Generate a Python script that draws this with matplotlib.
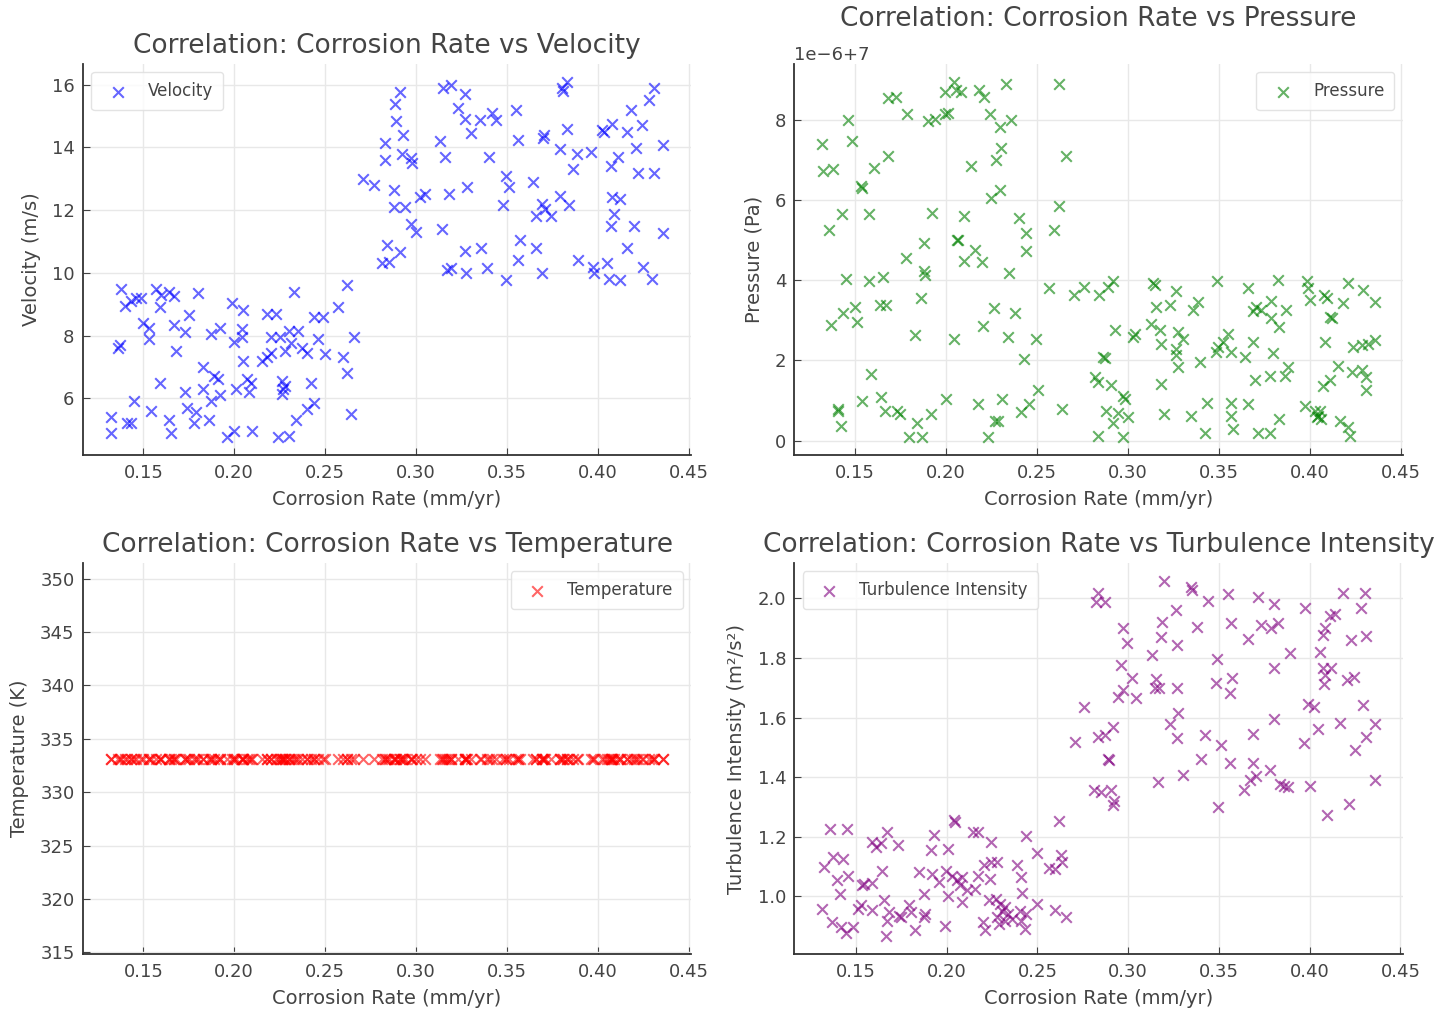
import matplotlib
matplotlib.use("Agg")
import matplotlib.pyplot as plt

# ---- data (corrosion rate in mm/yr) ----
rate_vel = [
    0.283, 0.283, 0.271, 0.277, 0.284, 0.281,
    0.138, 0.140, 0.143, 0.146, 0.149, 0.157, 0.160, 0.164, 0.167, 0.159, 0.180,
    0.150, 0.153, 0.153, 0.167, 0.173, 0.175, 0.137, 0.136, 0.168, 0.187, 0.192,
    0.199, 0.205, 0.200, 0.204, 0.204, 0.205, 0.218, 0.223, 0.233, 0.220, 0.225,
    0.230, 0.235, 0.231, 0.228, 0.237, 0.240, 0.215, 0.218, 0.220, 0.244, 0.249,
    0.257, 0.262, 0.246, 0.250, 0.260, 0.262, 0.266, 0.183, 0.189, 0.191, 0.183,
    0.187, 0.192, 0.173, 0.174, 0.179, 0.178, 0.186, 0.159, 0.145, 0.154, 0.132,
    0.132, 0.141, 0.143, 0.164, 0.165, 0.196, 0.200, 0.210, 0.224, 0.230, 0.201,
    0.207, 0.209, 0.208, 0.226, 0.228, 0.226, 0.227, 0.242, 0.234, 0.240, 0.244,
    0.264,
    0.291, 0.2885, 0.289, 0.293, 0.292, 0.297, 0.298, 0.288, 0.288, 0.294, 0.297,
    0.300, 0.291, 0.285, 0.302, 0.305, 0.313, 0.316, 0.314, 0.318, 0.328, 0.315,
    0.319, 0.327, 0.323, 0.327, 0.330, 0.335, 0.342, 0.344, 0.340, 0.355, 0.356,
    0.317, 0.319, 0.3275, 0.327, 0.3355, 0.339, 0.3495, 0.348, 0.3495, 0.351, 0.364,
    0.357, 0.356, 0.366, 0.369, 0.366, 0.369, 0.371, 0.374, 0.3705, 0.3696, 0.379,
    0.384, 0.380, 0.383, 0.381, 0.383, 0.379, 0.3885, 0.396, 0.386, 0.389, 0.397,
    0.398, 0.405, 0.406, 0.412, 0.402, 0.4035, 0.4075, 0.416, 0.418, 0.424, 0.428,
    0.431, 0.407, 0.411, 0.421, 0.422, 0.4306, 0.4355, 0.4075, 0.412, 0.409, 0.407,
    0.420, 0.436, 0.416, 0.4245, 0.4295,
]
velocity = [
    14.15, 13.6, 13.0, 12.8, 10.9, 10.3,
    9.5, 8.95, 9.1, 9.2, 9.2, 9.5, 9.3, 9.4, 9.25, 8.9, 9.35,
    8.4, 8.25, 7.9, 8.35, 8.1, 8.65, 7.7, 7.6, 7.5, 8.05, 8.25,
    9.05, 8.8, 7.8, 7.95, 8.2, 7.2, 8.7, 8.7, 9.4, 7.95, 7.95,
    8.15, 8.15, 7.75, 7.5, 7.6, 7.45, 7.2, 7.3, 7.45, 8.6, 8.6,
    8.9, 9.6, 7.9, 7.4, 7.3, 6.8, 7.95, 7.0, 6.7, 6.6, 6.3,
    5.9, 6.1, 6.2, 5.7, 5.55, 5.2, 5.3, 6.5, 5.9, 5.6, 5.4,
    4.9, 5.2, 5.2, 5.3, 4.9, 4.75, 4.95, 4.95, 4.75, 4.8, 6.3,
    6.6, 6.5, 6.2, 6.55, 6.4, 6.15, 6.3, 6.5, 5.3, 5.65, 5.85,
    5.5,
    15.78, 15.37, 14.85, 14.4, 13.8, 13.65, 13.5, 12.65, 12.1, 12.1, 11.55,
    11.3, 10.67, 10.35, 12.43, 12.5, 14.2, 13.7, 11.4, 12.5, 12.75, 15.9,
    16.0, 15.7, 15.25, 14.9, 14.45, 14.87, 15.1, 14.87, 13.7, 15.2, 14.25,
    10.1, 10.15, 10.0, 10.7, 10.8, 10.15, 9.77, 12.15, 13.1, 12.75, 12.9,
    11.05, 10.4, 10.8, 10.0, 11.8, 12.2, 12.05, 11.8, 14.4, 14.3, 12.45,
    12.15, 15.9, 16.1, 15.8, 14.6, 13.95, 13.8, 13.85, 13.3, 10.4, 10.2,
    10.0, 10.3, 9.8, 9.77, 14.57, 14.5, 14.75, 14.5, 15.2, 14.7, 15.5,
    15.9, 13.4, 13.7, 13.97, 13.17, 13.2, 14.07, 12.43, 12.35, 11.87, 11.5,
    11.5, 11.27, 10.8, 10.2, 9.8,
]

rate_pres = [
    0.132, 0.146, 0.1485, 0.1327, 0.138, 0.1533, 0.1537, 0.1606, 0.168, 0.168,
    0.1728, 0.1788, 0.190, 0.1938, 0.1993, 0.201, 0.1993, 0.2044, 0.2057, 0.2084,
    0.2184, 0.2208, 0.233, 0.2245, 0.230, 0.2358, 0.2303, 0.2276, 0.2139, 0.2248,
    0.230, 0.2622, 0.2659, 0.1358, 0.143, 0.158, 0.1923, 0.2099, 0.188, 0.1783,
    0.188, 0.1883, 0.2062, 0.2066, 0.216, 0.2102, 0.2197, 0.2403, 0.244, 0.244,
    0.2622, 0.2595, 0.2349, 0.1449, 0.158, 0.1655, 0.1861, 0.1637, 0.1673, 0.150,
    0.1436, 0.1509, 0.1369, 0.1828, 0.2047, 0.2263, 0.2203, 0.238, 0.2343, 0.2495,
    0.2567, 0.2704, 0.2759, 0.2427, 0.1588, 0.154, 0.1642, 0.1664, 0.1734, 0.1747,
    0.1405, 0.1409, 0.1423, 0.1843, 0.180, 0.1869, 0.192, 0.2002, 0.2175, 0.2307,
    0.227, 0.2285, 0.2234, 0.2412, 0.2458, 0.2504, 0.264,
    0.2844, 0.289, 0.2917, 0.3138, 0.3147, 0.3266, 0.3156, 0.3229, 0.3358, 0.3385,
    0.2927, 0.3028, 0.3037, 0.3128, 0.3174, 0.3183, 0.3275, 0.3303, 0.3266, 0.3266,
    0.3275, 0.3394, 0.2862, 0.2872, 0.2817, 0.2835, 0.2905, 0.2972, 0.2982, 0.2881,
    0.2917, 0.2945, 0.300, 0.2835, 0.2972, 0.3183, 0.3198, 0.3349, 0.3437, 0.3422,
    0.3492, 0.3495, 0.3523, 0.355, 0.3486, 0.3565, 0.3569, 0.3569, 0.3578, 0.3642,
    0.366, 0.366, 0.3688, 0.3697, 0.3688, 0.3706, 0.3734, 0.3789, 0.3789, 0.383,
    0.3868, 0.3796, 0.378, 0.3862, 0.388, 0.3826, 0.3716, 0.378, 0.383, 0.3972,
    0.3982, 0.3991, 0.400, 0.408, 0.4092, 0.411, 0.412, 0.4183, 0.421, 0.4294,
    0.4358, 0.4083, 0.4239, 0.4284, 0.432, 0.4358, 0.4156, 0.4229, 0.4284, 0.431,
    0.431, 0.4073, 0.411, 0.4028, 0.4046, 0.4037, 0.4055, 0.4064, 0.4165, 0.4211,
    0.422,
]
# pressure in units of 1e-6 Pa above 7 Pa (axis shows offset "1e-6+7")
pressure_dev = [
    7.4, 8.0, 7.46, 6.73, 6.77, 6.35, 6.3, 6.8, 7.1, 8.55,
    8.57, 8.15, 7.97, 8.02, 8.15, 8.17, 8.7, 8.95, 8.74, 8.7,
    8.74, 8.57, 8.89, 8.15, 7.83, 8.0, 7.3, 7.0, 6.85, 6.06,
    6.24, 8.89, 7.1, 5.26, 5.66, 5.66, 5.68, 5.6, 4.93, 4.55,
    4.22, 4.13, 5.01, 4.99, 4.74, 4.47, 4.45, 5.56, 5.18, 4.72,
    5.85, 5.24, 4.18, 4.03, 3.97, 4.07, 3.55, 3.38, 3.38, 3.34,
    3.17, 2.96, 2.88, 2.64, 2.53, 3.31, 2.86, 3.17, 2.59, 2.53,
    3.8, 3.63, 3.82, 2.03, 1.67, 1.0, 1.08, 0.74, 0.74, 0.66,
    0.79, 0.74, 0.37, 0.45, 0.1, 0.08, 0.66, 1.04, 0.91, 1.04,
    0.49, 0.49, 0.08, 0.72, 0.91, 1.27, 0.79,
    3.62, 3.84, 3.97, 3.92, 3.88, 3.72, 3.34, 3.38, 3.26, 3.46,
    2.75, 2.59, 2.67, 2.9, 2.75, 2.42, 2.71, 2.54, 2.29, 2.13,
    1.83, 1.96, 2.08, 2.06, 1.58, 1.45, 1.39, 1.12, 1.04, 0.74,
    0.45, 0.7, 0.6, 0.12, 0.1, 1.41, 0.66, 0.62, 0.95, 0.2,
    3.97, 2.33, 2.46, 2.67, 2.21, 2.21, 0.95, 0.62, 0.28, 2.08,
    3.8, 0.91, 2.46, 1.5, 3.23, 3.34, 3.26, 3.48, 3.05, 2.84,
    3.26, 2.19, 1.62, 1.62, 1.83, 4.0, 0.2, 0.2, 0.55, 0.87,
    3.97, 3.8, 3.5, 3.63, 3.55, 3.09, 3.05, 3.42, 3.92, 3.76,
    3.46, 2.46, 2.33, 2.38, 2.42, 2.5, 1.87, 1.7, 1.77, 1.58,
    1.25, 1.37, 1.5, 0.74, 0.62, 0.58, 0.74, 0.54, 0.49, 0.33,
    0.12,
]

rate_turb = [
    0.2759, 0.2708, 0.2617, 0.1358, 0.1449, 0.1327, 0.1372, 0.1427, 0.1394, 0.1454,
    0.1412, 0.1314, 0.1369, 0.1418, 0.1445, 0.1482, 0.1509, 0.1527, 0.1536, 0.1545,
    0.1588, 0.1591, 0.1591, 0.1609, 0.1637, 0.1673, 0.1734, 0.1646, 0.1655, 0.1682,
    0.1673, 0.1664, 0.1746, 0.1737, 0.1792, 0.1801, 0.1828, 0.1847, 0.1874, 0.1883,
    0.1874, 0.1915, 0.1933, 0.192, 0.1956, 0.1989, 0.2007, 0.1996, 0.2007, 0.2044,
    0.2038, 0.2029, 0.2057, 0.2084, 0.2075, 0.2084, 0.2111, 0.2157, 0.2148, 0.2175,
    0.2245, 0.2175, 0.2208, 0.2245, 0.2276, 0.224, 0.2232, 0.227, 0.2294, 0.2303,
    0.2321, 0.234, 0.2203, 0.2212, 0.2276, 0.2288, 0.2321, 0.2358, 0.2412, 0.243,
    0.244, 0.2403, 0.2385, 0.2409, 0.2415, 0.244, 0.25, 0.25, 0.2562, 0.2595,
    0.2635, 0.2631, 0.2595, 0.2659,
    0.2835, 0.2825, 0.2871, 0.2835, 0.2871, 0.2917, 0.289, 0.2893, 0.2813, 0.2853,
    0.2908, 0.2917, 0.2923, 0.2972, 0.2996, 0.2963, 0.3022, 0.2945, 0.2972, 0.3046,
    0.3132, 0.3156, 0.3147, 0.3169, 0.3272, 0.3199, 0.3184, 0.318, 0.3261, 0.3267,
    0.3349, 0.3353, 0.3382, 0.3441, 0.3551, 0.3566, 0.3487, 0.3482, 0.357, 0.3561,
    0.3662, 0.3717, 0.3732, 0.3787, 0.3827, 0.3805, 0.3805, 0.3892, 0.3974, 0.4057,
    0.4076, 0.4085, 0.4112, 0.414, 0.4186, 0.4305, 0.4283, 0.4228, 0.4309, 0.4076,
    0.4085, 0.4118, 0.4081, 0.4204, 0.4246, 0.3276, 0.323, 0.3267, 0.3423, 0.3511,
    0.3404, 0.3561, 0.3303, 0.3162, 0.3493, 0.3689, 0.3805, 0.3689, 0.3702, 0.3671,
    0.364, 0.3781, 0.3836, 0.386, 0.3882, 0.3993, 0.4026, 0.4048, 0.3971, 0.4002,
    0.4094, 0.4217, 0.4167, 0.4296, 0.436, 0.4309, 0.425, 0.436,
]
turbulence = [
    1.636, 1.518, 1.253, 1.227, 1.227, 1.1, 1.132, 1.127, 1.056, 1.07,
    1.009, 0.959, 0.914, 0.897, 0.877, 0.897, 0.959, 0.97, 1.037, 1.043,
    1.045, 0.955, 1.182, 1.166, 1.179, 1.216, 1.171, 1.087, 0.987, 0.947,
    0.919, 0.866, 0.931, 0.933, 0.97, 0.947, 0.886, 1.082, 1.009, 0.942,
    0.931, 1.157, 1.205, 1.076, 1.048, 0.902, 1.16, 1.085, 1.003, 1.25,
    1.255, 1.07, 1.054, 1.067, 1.037, 0.981, 1.022, 1.026, 1.216, 1.216,
    1.182, 1.07, 1.107, 1.115, 1.115, 1.059, 0.987, 0.992, 0.975, 0.953,
    0.964, 0.942, 0.914, 0.886, 0.931, 0.909, 0.917, 0.925, 0.919, 0.891,
    0.94, 0.953, 1.107, 1.067, 1.011, 1.202, 1.146, 0.975, 1.096, 1.093,
    1.115, 1.138, 0.955, 0.931,
    2.017, 1.989, 1.989, 1.535, 1.541, 1.569, 1.462, 1.459, 1.358, 1.35,
    1.356, 1.306, 1.32, 1.9, 1.849, 1.776, 1.731, 1.67, 1.692, 1.664,
    1.81, 1.728, 1.698, 1.7, 1.698, 2.059, 1.922, 1.871, 1.961, 1.843,
    2.037, 2.028, 1.905, 1.992, 2.015, 1.918, 1.795, 1.717, 1.731, 1.681,
    1.862, 2.003, 1.91, 1.899, 1.918, 1.981, 1.765, 1.817, 1.966, 1.821,
    1.877, 1.9, 1.941, 1.947, 2.017, 2.017, 1.966, 1.86, 1.873, 1.765,
    1.742, 1.765, 1.714, 1.726, 1.737, 1.614, 1.58, 1.53, 1.541, 1.507,
    1.462, 1.446, 1.406, 1.384, 1.3, 1.546, 1.594, 1.448, 1.403, 1.39,
    1.356, 1.423, 1.378, 1.37, 1.367, 1.647, 1.636, 1.563, 1.513, 1.37,
    1.272, 1.311, 1.582, 1.642, 1.578, 1.535, 1.49, 1.392,
]

# temperature is constant over the whole sample; same rates as the velocity panel
rate_temp = rate_vel
temperature = [333.15] * len(rate_temp)

pressure = [7 + p * 1e-6 for p in pressure_dev]

panels = [
    (rate_vel, velocity, "Velocity", "Velocity (m/s)", "blue", "upper left"),
    (rate_pres, pressure, "Pressure", "Pressure (Pa)", "green", "upper right"),
    (rate_temp, temperature, "Temperature", "Temperature (K)", "red", "upper right"),
    (rate_turb, turbulence, "Turbulence Intensity", "Turbulence Intensity (m\u00b2/s\u00b2)",
     "purple", "upper left"),
]

plt.rcParams["font.family"] = ["DejaVu Sans"]
text_color = "#444444"

fig, axes = plt.subplots(2, 2, figsize=(14.55, 10.13), dpi=100)
fig.subplots_adjust(left=0.057, right=0.964, bottom=0.058, top=0.937,
                    wspace=0.17, hspace=0.275)

for ax, (x, y, name, ylabel, color, loc) in zip(axes.flat, panels):
    ax.scatter(x, y, marker="x", s=58, color=color, alpha=0.6, linewidths=1.5, label=name)
    # the pressure title sits higher because of the offset text above its axis
    ax.set_title(f"Correlation: Corrosion Rate vs {name}", fontsize=19, color=text_color,
                 pad=14 if name == "Pressure" else 8)
    ax.set_xlabel("Corrosion Rate (mm/yr)", fontsize=14, color=text_color, labelpad=6)
    ax.set_ylabel(ylabel, fontsize=14, color=text_color, labelpad=8)
    ax.set_xticks([0.15, 0.20, 0.25, 0.30, 0.35, 0.40, 0.45])
    ax.tick_params(direction="in", length=5, pad=6, labelsize=13, colors=text_color)
    ax.grid(True, color="#e8e8e8", linewidth=1)
    ax.set_axisbelow(True)
    for side in ("top", "right"):
        ax.spines[side].set_visible(False)
    for side in ("left", "bottom"):
        ax.spines[side].set_color("#333333")
        ax.spines[side].set_linewidth(1.3)
    leg = ax.legend(loc=loc, fontsize=12, labelcolor=text_color, borderpad=0.6)
    leg.get_frame().set_edgecolor("#dddddd")

axes[0, 1].yaxis.get_offset_text().set_fontsize(13)
axes[0, 1].yaxis.get_offset_text().set_color(text_color)

fig.savefig("out.png", dpi=100)
plt.close(fig)
